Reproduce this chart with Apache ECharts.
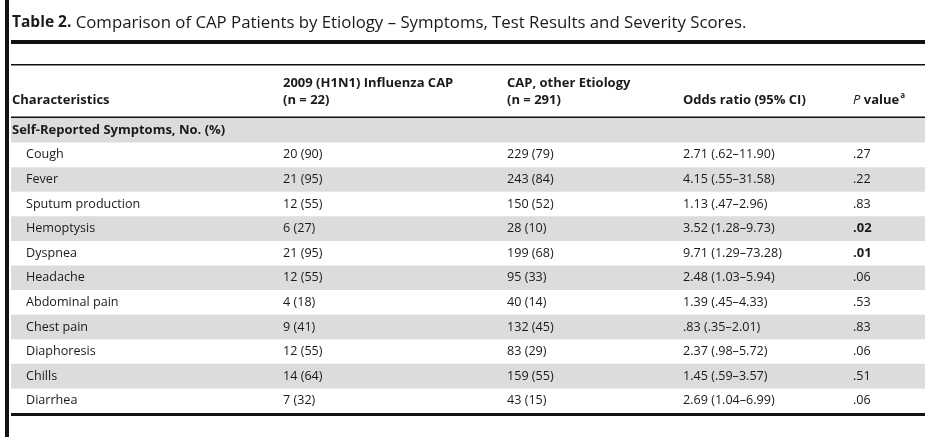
<!DOCTYPE html>
<html>
<head>
<meta charset="utf-8">
<script src="https://cdn.jsdelivr.net/npm/echarts@6/dist/echarts.min.js"></script>
<style>
  html, body { margin: 0; padding: 0; background: #fff; }
  #chart { width: 925px; height: 437px; }
</style>
</head>
<body>
<div id="chart"></div>
<script>
// ---- data ----
const sectionLabel = 'Self-Reported Symptoms, No. (%)';
const categories = ['Cough', 'Fever', 'Sputum production', 'Hemoptysis', 'Dyspnea', 'Headache',
  'Abdominal pain', 'Chest pain', 'Diaphoresis', 'Chills', 'Diarrhea'];
const h1n1Count = [20, 21, 12, 6, 21, 12, 4, 9, 12, 14, 7];
const h1n1Pct = [90, 95, 55, 27, 95, 55, 18, 41, 55, 64, 32];
const otherCount = [229, 243, 150, 28, 199, 95, 40, 132, 83, 159, 43];
const otherPct = [79, 84, 52, 10, 68, 33, 14, 45, 29, 55, 15];
const oddsRatio = [2.71, 4.15, 1.13, 3.52, 9.71, 2.48, 1.39, 0.83, 2.37, 1.45, 2.69];
const ciLow = [0.62, 0.55, 0.47, 1.28, 1.29, 1.03, 0.45, 0.35, 0.98, 0.59, 1.04];
const ciHigh = [11.90, 31.58, 2.96, 9.73, 73.28, 5.94, 4.33, 2.01, 5.72, 3.57, 6.99];
const pValue = [0.27, 0.22, 0.83, 0.02, 0.01, 0.06, 0.53, 0.83, 0.06, 0.51, 0.06];
const columnHeaders = ['Characteristics', '2009 (H1N1) Influenza CAP', '(n = 22)', 'CAP, other Etiology', '(n = 291)', 'Odds ratio (95% CI)'];

// ---- layout / style ----
const FONT = '"Open Sans", "DejaVu Sans", sans-serif';
const TXT = '#1a1a1a';
const GRAY = '#dcdcdc';
const BODY = '12.6px ';
const BOLD = 'bold 13px ';
const colX = [15, 272, 496, 672, 842]; // px offsets inside grid (grid left = 11)
const fmt = v => v.toFixed(2).replace(/^0\./, '.');

const rows = [sectionLabel].concat(categories);

function renderItem(params, api) {
  const i = api.value(1);
  const c = api.coord([0, i]);
  const band = api.size([0, 1])[1];
  const children = [];
  if (i % 2 === 0) {
    children.push({
      type: 'rect',
      shape: { x: c[0], y: c[1] - band / 2, width: params.coordSys.width, height: band },
      style: { fill: GRAY }
    });
  }
  const txt = (x, s, bold) => ({
    type: 'text',
    x: api.coord([x, i])[0], y: c[1],
    style: { text: s, fill: TXT, font: (bold ? BOLD : BODY) + FONT, verticalAlign: 'middle', align: 'left' }
  });
  if (i === 0) {
    children.push(txt(1, sectionLabel, true));
  } else {
    const k = i - 1;
    children.push(txt(colX[0], categories[k], false));
    children.push(txt(colX[1], h1n1Count[k] + ' (' + h1n1Pct[k] + ')', false));
    children.push(txt(colX[2], otherCount[k] + ' (' + otherPct[k] + ')', false));
    children.push(txt(colX[3], fmt(oddsRatio[k]) + ' (' + fmt(ciLow[k]) + '\u2013' + fmt(ciHigh[k]) + ')', false));
    children.push(txt(colX[4], fmt(pValue[k]), pValue[k] < 0.05));
  }
  return { type: 'group', children: children };
}

const chart = echarts.init(document.getElementById('chart'), null, { renderer: 'canvas' });
const hdr = (x, y, s) => ({
  type: 'text', x: x, y: y,
  style: { text: s, fill: TXT, font: BOLD + FONT, verticalAlign: 'middle' }
});
chart.setOption({
  animation: false,
  backgroundColor: '#fff',
  grid: { left: 11, right: 0, top: 118, bottom: 24 },
  xAxis: { type: 'value', min: 0, max: 914, show: false },
  yAxis: { type: 'category', data: rows, inverse: true, show: false },
  series: [{
    type: 'custom',
    renderItem: renderItem,
    encode: { x: 0, y: 1 },
    data: rows.map((_, i) => [0, i])
  }],
  graphic: [
    { type: 'rect', shape: { x: 5, y: 0, width: 4, height: 437 }, style: { fill: '#111' } },
    {
      type: 'text', x: 12, y: 23,
      style: {
        text: '{b|Table 2.} Comparison of CAP Patients by Etiology \u2013 Symptoms, Test Results and Severity Scores.',
        fill: TXT, font: '16.8px ' + FONT, verticalAlign: 'middle',
        rich: { b: { fontWeight: 'bold', fontSize: 15.5, fontFamily: FONT, fill: TXT } }
      }
    },
    { type: 'rect', shape: { x: 11, y: 40, width: 914, height: 4 }, style: { fill: '#111' } },
    { type: 'rect', shape: { x: 11, y: 64, width: 914, height: 1.5 }, style: { fill: '#111' } },
    { type: 'rect', shape: { x: 11, y: 116.5, width: 914, height: 1.5 }, style: { fill: '#111' } },
    { type: 'rect', shape: { x: 11, y: 413, width: 914, height: 3 }, style: { fill: '#111' } },
    hdr(12, 100, columnHeaders[0]),
    hdr(283, 83, columnHeaders[1]),
    hdr(283, 100, columnHeaders[2]),
    hdr(507, 83, columnHeaders[3]),
    hdr(507, 100, columnHeaders[4]),
    hdr(683, 100, columnHeaders[5]),
    {
      type: 'text', x: 853, y: 100,
      style: {
        text: '{i|P} value{s|a}', fill: TXT, font: BOLD + FONT, verticalAlign: 'middle',
        rich: {
          i: { fontStyle: 'italic', fontWeight: 'normal', fontSize: 13, fontFamily: FONT, fill: TXT },
          s: { fontWeight: 'bold', fontSize: 8, fontFamily: FONT, fill: TXT, padding: [0, 0, 8, 1] }
        }
      }
    }
  ]
});
</script>
</body>
</html>
